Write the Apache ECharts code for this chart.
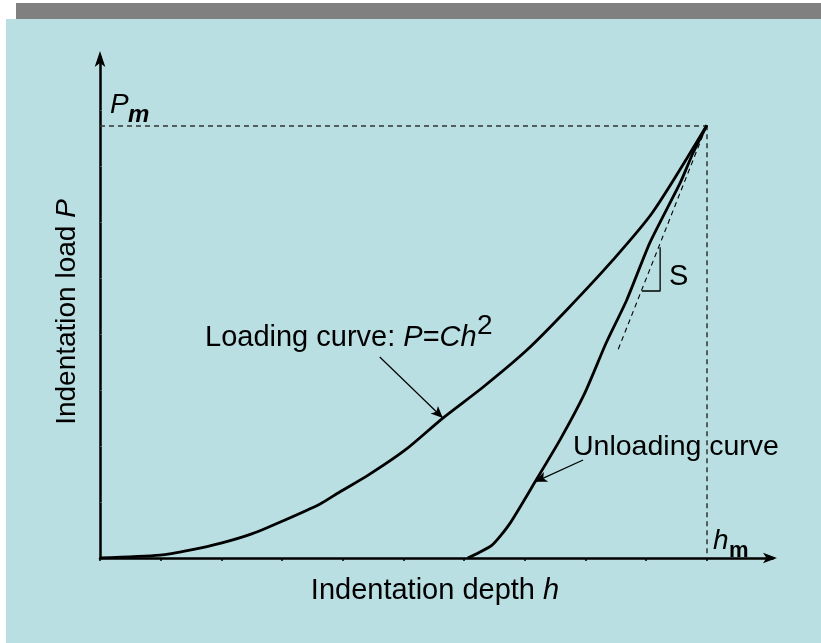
<!DOCTYPE html>
<html>
<head>
<meta charset="utf-8">
<script src="https://cdn.jsdelivr.net/npm/echarts@6/dist/echarts.min.js"></script>
<style>
  html, body { margin: 0; padding: 0; background: #ffffff; }
  #chart { width: 821px; height: 643px; }
</style>
</head>
<body>
<div id="chart"></div>
<script>
// 加载曲线 (h, P)
const loadH = [0, 0.99, 1.48, 2.01, 2.5, 3.01, 3.62, 3.95, 4.42, 5.03, 5.65, 6.31, 7.03, 7.69, 8.45, 9.11, 10];
const loadP = [0, 0.05, 0.14, 0.27, 0.43, 0.66, 0.96, 1.18, 1.48, 1.93, 2.5, 3.05, 3.71, 4.43, 5.32, 6.18, 7.73];

// 卸载曲线
const unloadH = [6.06, 6.46, 6.75, 7.18, 7.58, 7.99, 8.34, 8.68, 9.06, 9.56, 9.77, 10];
const unloadP = [0, 0.23, 0.61, 1.38, 2.11, 2.95, 3.84, 4.61, 5.63, 6.7, 7.23, 7.73];

// 最大载荷与最大深度
const hMax = 10;
const pMax = 7.73;

// 切线 S 与小三角
const tangentH = [8.54, 10];
const tangentP = [3.73, 7.73];
const triH = [8.93, 9.23, 9.23];
const triP = [4.77, 4.77, 5.55];

// 注释箭头 [起点, 终点]
const loadArrow = [[4.61, 3.59], [5.65, 2.5]];
const unloadArrow = [[7.96, 1.75], [7.17, 1.36]];

// 刻度
const xTicks = [0, 1, 2, 3, 4, 5, 6, 7, 8, 9, 10];
const yTicks = [1, 2, 3, 4, 5, 6, 7, 8];

const zip = (a, b) => a.map((v, i) => [v, b[i]]);
const font = "'Liberation Sans', Arial, sans-serif";

const chart = echarts.init(document.getElementById("chart"));

const option = {
  backgroundColor: "#ffffff",
  animation: false,
  grid: { left: 100, right: 48, top: 57, bottom: 85, containLabel: false },
  xAxis: {
    type: "value",
    min: 0,
    max: 11.09,
    interval: 1,
    splitLine: { show: false },
    axisLabel: { show: false },
    axisLine: {
      onZero: false,
      symbol: ["none", "arrow"],
      symbolSize: [8, 14],
      symbolOffset: [0, 4],
      lineStyle: { color: "#000", width: 2.5 },
    },
    axisTick: {
      show: true,
      length: 3,
      customValues: xTicks,
      lineStyle: { color: "#000", width: 1.5 },
    },
  },
  yAxis: {
    type: "value",
    min: 0,
    max: 8.95,
    interval: 1,
    splitLine: { show: false },
    axisLabel: { show: false },
    axisLine: {
      onZero: false,
      symbol: ["none", "arrow"],
      symbolSize: [8, 16],
      symbolOffset: [0, 6],
      lineStyle: { color: "#000", width: 2.5 },
    },
    axisTick: {
      show: true,
      inside: true,
      length: 2,
      customValues: yTicks,
      lineStyle: { color: "#555", width: 1 },
    },
  },
  graphic: [
    { type: "rect", z: -10, silent: true, shape: { x: 6, y: 19, width: 815, height: 624 }, style: { fill: "#b9dfe2" } },
    { type: "rect", z: -10, silent: true, shape: { x: 16, y: 3, width: 805, height: 16 }, style: { fill: "#808080" } },
    {
      type: "text", x: 67, y: 312, rotation: Math.PI / 2,
      style: {
        text: "{n|Indentation load }{i|P}",
        align: "center", verticalAlign: "middle",
        rich: {
          n: { fontFamily: font, fontSize: 28, fill: "#000" },
          i: { fontFamily: font, fontSize: 28, fill: "#000", fontStyle: "italic" },
        },
      },
    },
    {
      type: "text", x: 435, y: 591,
      style: {
        text: "{n|Indentation depth }{i|h}",
        align: "center", verticalAlign: "middle",
        rich: {
          n: { fontFamily: font, fontSize: 29, fill: "#000" },
          i: { fontFamily: font, fontSize: 29, fill: "#000", fontStyle: "italic" },
        },
      },
    },
    {
      type: "text", x: 205, y: 338,
      style: {
        text: "{n|Loading curve: }{i|P}{n|=}{i|Ch}",
        align: "left", verticalAlign: "middle",
        rich: {
          n: { fontFamily: font, fontSize: 29, fill: "#000" },
          i: { fontFamily: font, fontSize: 29, fill: "#000", fontStyle: "italic" },
        },
      },
    },
    { type: "text", x: 477, y: 326, style: { text: "2", font: "28px " + font, fill: "#000", align: "left", verticalAlign: "middle" } },
    { type: "text", x: 573, y: 447, style: { text: "Unloading curve", font: "28.5px " + font, fill: "#000", align: "left", verticalAlign: "middle" } },
    { type: "text", x: 669, y: 277, style: { text: "S", font: "29px " + font, fill: "#000", align: "left", verticalAlign: "middle" } },
    { type: "text", x: 110, y: 105, style: { text: "P", font: "italic 28px " + font, fill: "#000", align: "left", verticalAlign: "middle" } },
    { type: "text", x: 128, y: 115, style: { text: "m", font: "italic bold 24px " + font, fill: "#000", align: "left", verticalAlign: "middle" } },
    { type: "text", x: 713, y: 541, style: { text: "h", font: "italic 28px " + font, fill: "#000", align: "left", verticalAlign: "middle" } },
    { type: "text", x: 729, y: 551, style: { text: "m", font: "bold 22px " + font, fill: "#000", align: "left", verticalAlign: "middle" } },
  ],
  series: [
    {
      name: "Loading",
      type: "line",
      data: zip(loadH, loadP),
      symbol: "none",
      smooth: 0.25,
      lineStyle: { color: "#000", width: 2.8 },
      z: 5,
    },
    {
      name: "Unloading",
      type: "line",
      data: zip(unloadH, unloadP),
      symbol: "none",
      smooth: 0.2,
      lineStyle: { color: "#000", width: 2.8 },
      z: 5,
    },
    {
      name: "Tangent",
      type: "line",
      data: zip(tangentH, tangentP),
      symbol: "none",
      lineStyle: { color: "#000", width: 1.1, type: [5, 4] },
      z: 4,
    },
    {
      name: "Triangle",
      type: "line",
      data: zip(triH, triP),
      symbol: "none",
      lineStyle: { color: "#000", width: 1.3 },
      z: 4,
    },
    {
      name: "Guides",
      type: "line",
      data: [],
      markLine: {
        silent: true,
        symbol: "none",
        label: { show: false },
        lineStyle: { color: "#333", width: 1.5, type: [5, 4] },
        data: [
          [{ coord: [0, pMax] }, { coord: [hMax, pMax] }],
          [{ coord: [hMax, pMax] }, { coord: [hMax, 0] }],
        ],
      },
    },
    {
      name: "Arrows",
      type: "line",
      data: [],
      markLine: {
        silent: true,
        symbol: ["none", "arrow"],
        symbolSize: [8, 12],
        label: { show: false },
        lineStyle: { color: "#000", width: 1.2, type: "solid" },
        data: [
          [{ coord: loadArrow[0] }, { coord: loadArrow[1] }],
          [{ coord: unloadArrow[0] }, { coord: unloadArrow[1] }],
        ],
      },
    },
  ],
};

option && chart.setOption(option);
</script>
</body>
</html>
